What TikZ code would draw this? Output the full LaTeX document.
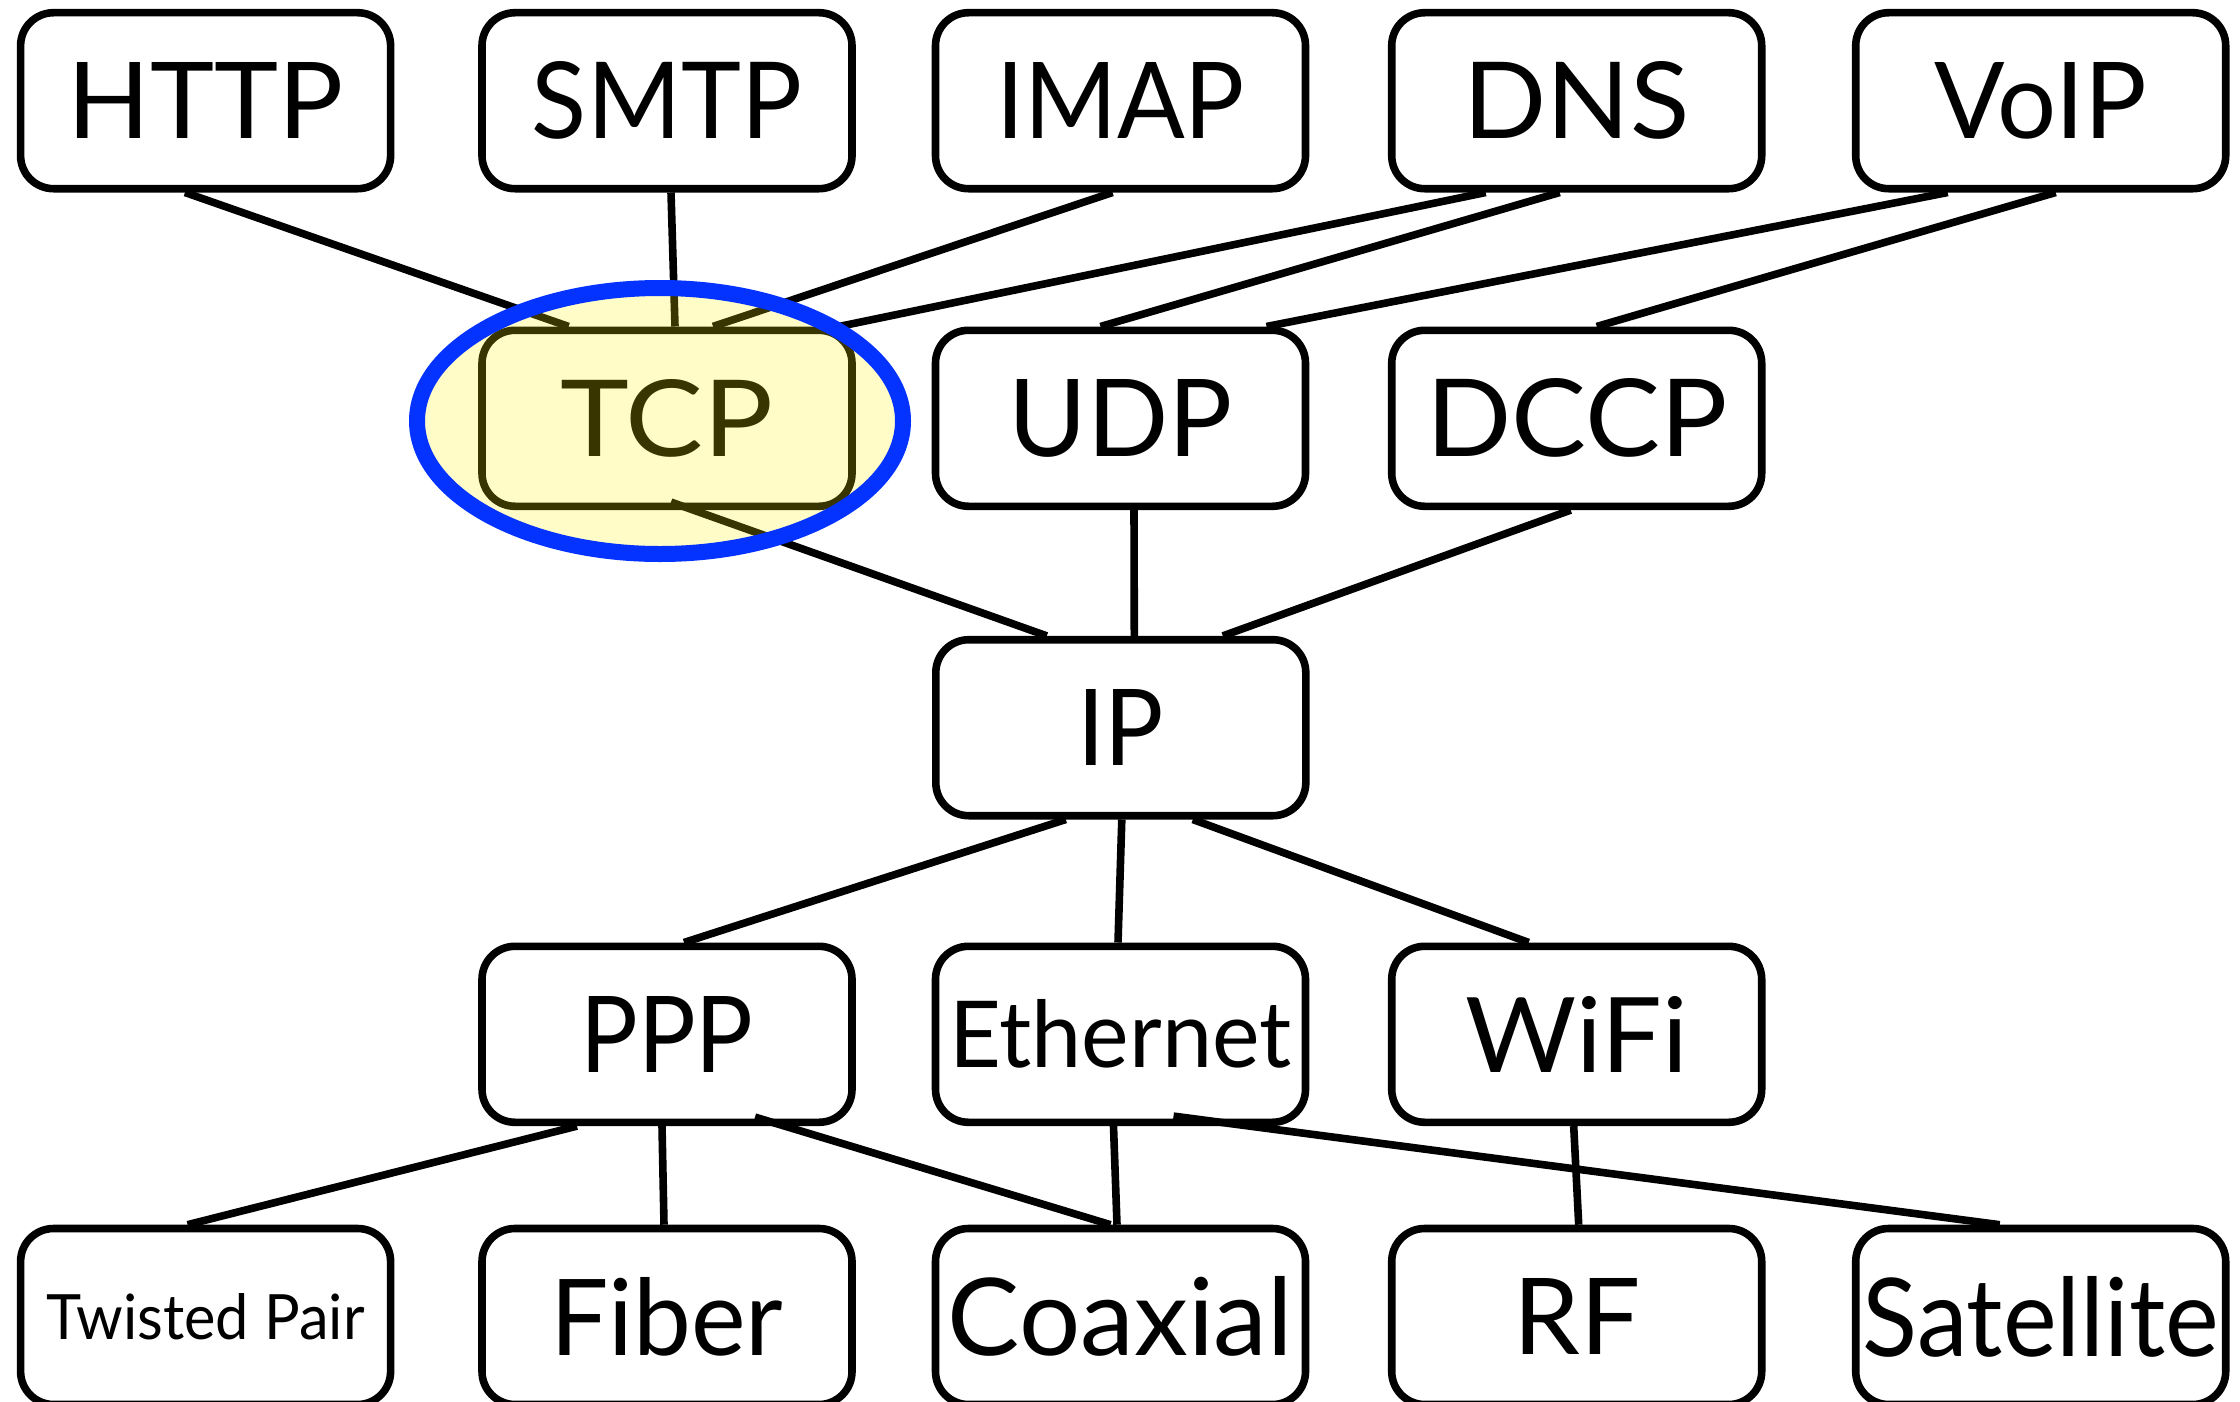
\documentclass[tikz,border=0pt]{standalone}
\usepackage{fontspec}
\usepackage{graphicx}
\setmainfont{Lato}
\usetikzlibrary{calc}
\newcommand\boxtext[3]{\resizebox{#1pt}{#2pt}{#3}}
\definecolor{hlblue}{RGB}{4,51,255}
\definecolor{hlyellow}{rgb}{1,0.95,0}
\tikzset{
  layerbox/.style={draw=black, line width=7.6pt, rounded corners=33pt,
    minimum width=370pt, minimum height=176pt, inner sep=0pt, fill=white},
  link/.style={draw=black, line width=7.6pt},
  highlight/.style={draw=hlblue, line width=16pt, fill=hlyellow, fill opacity=0.22}
}
\begin{document}
\begin{tikzpicture}[x=1pt, y=-1pt]
\useasboundingbox[fill=white] (0,0) rectangle (2240,1402);
% row 1
\node[layerbox] (http) at (205.6,100.7) {\boxtext{276}{76}{HTTP}};
\node[layerbox] (smtp) at (667,100.7) {\boxtext{270}{77}{SMTP}};
\node[layerbox] (imap) at (1120.5,100.7) {\boxtext{249}{76}{IMAP}};
\node[layerbox] (dns) at (1576.7,100.7) {\boxtext{226}{77}{DNS}};
\node[layerbox] (voip) at (2040.7,100.7) {\boxtext{212}{76}{VoIP}};
% row 2
\node[layerbox] (tcp) at (667,418.3) {\boxtext{213}{77}{TCP}};
\node[layerbox] (udp) at (1120.5,418.3) {\boxtext{224}{77}{UDP}};
\node[layerbox] (dccp) at (1576.7,418.3) {\boxtext{301}{78}{DCCP}};
% row 3
\node[layerbox] (ip) at (1120.8,727.7) {\boxtext{87}{76}{IP}};
% row 4
\node[layerbox] (ppp) at (667,1034.3) {\boxtext{173}{76}{PPP}};
\node[layerbox] (eth) at (1120.5,1034.3) {\boxtext{342}{68}{Ethernet}};
\node[layerbox] (wifi) at (1576.7,1034.3) {\boxtext{222}{76}{WiFi}};
% row 5
\node[layerbox] (tp) at (205.6,1316.5) {\boxtext{318}{46}{Twisted Pair}};
\node[layerbox] (fiber) at (667,1316.5) {\boxtext{233}{78}{Fiber}};
\node[layerbox] (coax) at (1120.5,1316.5) {\boxtext{345}{79}{Coaxial}};
\node[layerbox] (rf) at (1576.7,1316.5) {\boxtext{127}{76}{RF}};
\node[layerbox] (sat) at (2040.7,1316.5) {\boxtext{356}{80}{Satellite}};
% connectors
\draw[link] ([xshift=-20.6pt]http.south) -- ([xshift=-98.4pt]tcp.north);
\draw[link] ([xshift=4pt]smtp.south) -- ([xshift=8pt]tcp.north);
\draw[link] ([xshift=-8pt]imap.south) -- ([xshift=46pt]tcp.north);
\draw[link] ([xshift=-91pt]dns.south) -- ([xshift=172pt]tcp.north);
\draw[link] ([xshift=-17pt]dns.south) -- ([xshift=-20pt]udp.north);
\draw[link] ([xshift=-93pt]voip.south) -- ([xshift=146pt]udp.north);
\draw[link] ([xshift=15pt]voip.south) -- ([xshift=20pt]dccp.north);
\draw[link] ([xshift=4pt,yshift=8pt]tcp.south) -- ([xshift=-74pt]ip.north);
\draw[link] ([xshift=13.5pt]udp.south) -- ([xshift=13.5pt]ip.north);
\draw[link] ([xshift=-6pt]dccp.south) -- ([xshift=102pt]ip.north);
\draw[link] ([xshift=-55pt]ip.south) -- ([xshift=17pt]ppp.north);
\draw[link] ([xshift=1pt]ip.south) -- ([xshift=-2.5pt]eth.north);
\draw[link] ([xshift=72pt]ip.south) -- ([xshift=-48pt]wifi.north);
\draw[link] ([xshift=-90pt]ppp.south) -- ([xshift=-18pt]tp.north);
\draw[link] ([xshift=-5pt]ppp.south) -- ([xshift=-3pt]fiber.north);
\draw[link] ([xshift=88pt,yshift=9pt]ppp.south) -- ([xshift=-10pt]coax.north);
\draw[link] ([xshift=-7pt]eth.south) -- ([xshift=-3.5pt]coax.north);
\draw[link] ([xshift=53pt,yshift=10pt]eth.south) -- ([xshift=-41pt]sat.north);
\draw[link] ([xshift=-3pt]wifi.south) -- ([xshift=2pt]rf.north);
% highlight around TCP
\draw[highlight] ($(tcp.center)+(-7,2.7)$) ellipse [x radius=243, y radius=133];
\end{tikzpicture}
\end{document}
